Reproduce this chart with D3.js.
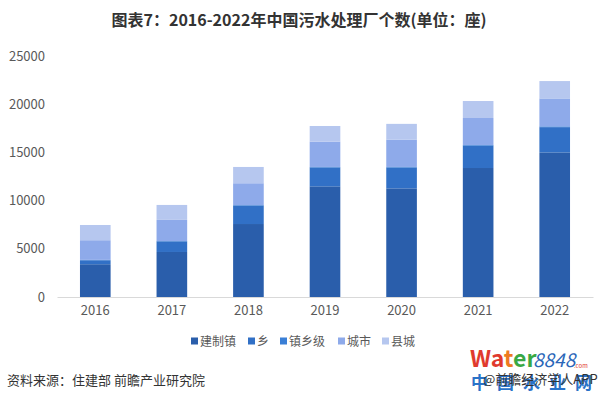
<!DOCTYPE html>
<html>
<head>
<meta charset="utf-8">
<script src="https://cdn.jsdelivr.net/npm/d3@7"></script>
<style>
  body { margin: 0; background: #fff; }
  text { font-family: "Noto Sans CJK SC", "Noto Sans", sans-serif; }
</style>
</head>
<body>
<div id="chart"></div>
<script>
// data
const years = ["2016", "2017", "2018", "2019", "2020", "2021", "2022"];
const jianzhizhen = [3400, 4670, 7570, 11480, 11270, 13380, 15000];
const xiang = [410, 1100, 1920, 1960, 2160, 2320, 2620];
const zhenxiangji = [40, 40, 50, 50, 60, 70, 80];
const chengshi = [2040, 2190, 2260, 2620, 2840, 2800, 2900];
const xiancheng = [1580, 1550, 1690, 1630, 1630, 1760, 1800];
const seriesNames = ["建制镇", "乡", "镇乡级", "城市", "县城"];
const yTicks = [0, 5000, 10000, 15000, 20000, 25000];

const colors = ["#2a5eab", "#3170c6", "#3a7fd6", "#8eaaea", "#b6c7ef"];
const width = 599, height = 399;

const rows = years.map((y, i) => ({
  year: y,
  "建制镇": jianzhizhen[i],
  "乡": xiang[i],
  "镇乡级": zhenxiangji[i],
  "城市": chengshi[i],
  "县城": xiancheng[i]
}));

const svg = d3.select("#chart").append("svg")
  .attr("width", width).attr("height", height);

// title
svg.append("text")
  .attr("x", 299).attr("y", 26)
  .attr("text-anchor", "middle")
  .attr("font-size", 16).attr("font-weight", "bold")
  .attr("fill", "#333")
  .text("图表7：2016-2022年中国污水处理厂个数(单位：座)");

const x = d3.scaleBand().domain(years).range([57, 593])
  .paddingInner(0.6).paddingOuter(0.3);
const y = d3.scaleLinear().domain([0, 25000]).range([297, 56]);

const stack = d3.stack().keys(seriesNames);
const layers = stack(rows);

svg.append("g").selectAll("g").data(layers).join("g")
  .attr("fill", (d, i) => colors[i])
  .selectAll("rect").data(d => d).join("rect")
  .attr("x", d => x(d.data.year))
  .attr("width", x.bandwidth())
  .attr("y", d => y(d[1]))
  .attr("height", d => y(d[0]) - y(d[1]));

// y axis labels, no thousands separator
const yAxis = svg.append("g").attr("transform", "translate(45,0)")
  .call(d3.axisLeft(y).tickValues(yTicks).tickFormat(d3.format("d")).tickSize(0).tickPadding(0));
yAxis.select(".domain").remove();
yAxis.selectAll("text").attr("font-size", 13).attr("fill", "#595959")
  .attr("font-family", "'Noto Sans CJK SC', sans-serif");

// x axis
const xAxis = svg.append("g").attr("transform", "translate(0,297)")
  .call(d3.axisBottom(x).tickSize(0).tickPadding(9));
xAxis.select(".domain").attr("stroke", "#d9d9d9");
xAxis.selectAll("text").attr("font-size", 13).attr("fill", "#595959")
  .attr("font-family", "'Noto Sans CJK SC', sans-serif");

// legend
const legendX = [195, 252, 284, 342, 386];
const legend = svg.append("g").selectAll("g").data(seriesNames).join("g")
  .attr("transform", (d, i) => `translate(${legendX[i]},341)`);
legend.append("rect").attr("x", -4).attr("y", -3.5).attr("width", 7).attr("height", 7)
  .attr("fill", (d, i) => colors[i]);
legend.append("text").attr("x", 5).attr("y", 4.5)
  .attr("font-size", 12).attr("fill", "#595959").text(d => d);

// source
svg.append("text").attr("x", 7).attr("y", 385)
  .attr("font-size", 13).attr("fill", "#333")
  .text("资料来源：住建部 前瞻产业研究院");

// watermark logo bottom right
const logo = svg.append("g");
const wt = logo.append("text").attr("x", 470).attr("y", 367)
  .attr("font-size", 23).attr("font-weight", "bold")
  .attr("font-family", "'Liberation Sans', Arial, sans-serif");
wt.append("tspan").attr("fill", "#e03a2e").text("Wa");
wt.append("tspan").attr("fill", "#ee7a22").text("t");
wt.append("tspan").attr("fill", "#39a845").text("er");
logo.append("text").attr("x", 533).attr("y", 367)
  .attr("font-size", 19).attr("font-style", "italic")
  .attr("font-family", "'Liberation Serif', serif")
  .attr("fill", "#2a66b8").text("8848");
logo.append("text").attr("x", 574).attr("y", 368)
  .attr("font-size", 6).attr("fill", "#e03a2e").text(".com");
logo.append("text").attr("x", 471).attr("y", 389)
  .attr("font-size", 17).attr("font-weight", "bold")
  .attr("letter-spacing", 9).attr("fill", "#2a72c8").text("中国水业网");
logo.append("text").attr("x", 483).attr("y", 384)
  .attr("font-size", 13).attr("fill", "#333").text("@前瞻经济学人APP");
</script>
</body>
</html>
